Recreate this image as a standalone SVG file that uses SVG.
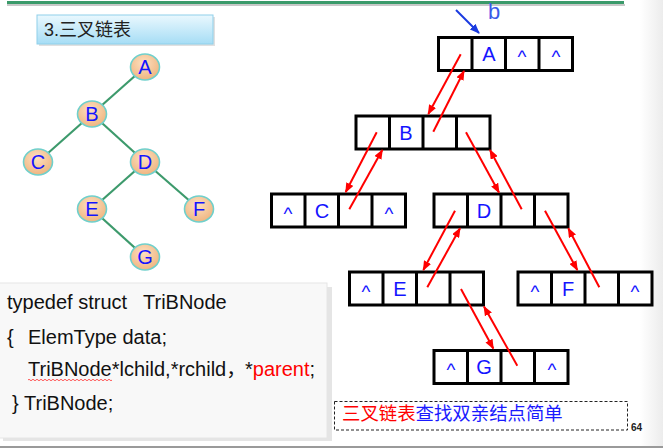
<svg xmlns="http://www.w3.org/2000/svg" width="663" height="448" viewBox="0 0 663 448">
<defs>
<linearGradient id="gTitle" x1="0" y1="0" x2="0" y2="1">
<stop offset="0" stop-color="#eaf8fe"/>
<stop offset="1" stop-color="#a6ddf5"/>
</linearGradient>
<radialGradient id="gBall" cx="0.45" cy="0.35" r="0.7">
<stop offset="0" stop-color="#fde0c0"/>
<stop offset="1" stop-color="#eeb27c"/>
</radialGradient>
<linearGradient id="gSide" x1="0" y1="0" x2="1" y2="0">
<stop offset="0" stop-color="#ffffff"/>
<stop offset="1" stop-color="#ececec"/>
</linearGradient>
<marker id="mRed" viewBox="0 0 10 8" refX="9" refY="4" markerWidth="10" markerHeight="8" markerUnits="userSpaceOnUse" orient="auto">
<path d="M0,0 L10,4 L0,8 Z" fill="#ff0000"/>
</marker>
<marker id="mBlue" viewBox="0 0 10 8" refX="9" refY="4" markerWidth="10" markerHeight="8" markerUnits="userSpaceOnUse" orient="auto">
<path d="M0,0 L10,4 L0,8 Z" fill="#1a3ae0"/>
</marker>
</defs>
<style>
.edge{stroke:#3d9a6c;stroke-width:2.2;fill:none}
.ball{fill:url(#gBall);stroke:#6fd0cc;stroke-width:1.6}
.tl{font-family:"Liberation Sans",Arial,sans-serif;font-size:20px;fill:#1414ff;text-anchor:middle}
.rec{fill:#ffffff;stroke:#000000;stroke-width:3}
.div{stroke:#000000;stroke-width:3}
.cl{font-family:"Liberation Sans",Arial,sans-serif;font-size:20px;fill:#1414ff;text-anchor:middle}
.nul{font-family:"Liberation Sans",Arial,sans-serif;font-size:19px;fill:#1414ff;text-anchor:middle}
.ptr{stroke:#ff0000;stroke-width:2;fill:none;marker-end:url(#mRed)}
.code{font-family:"Liberation Sans",Arial,"Noto Sans CJK SC",sans-serif;font-size:20px;fill:#111111}
</style>
<rect x="0" y="0" width="663" height="448" fill="#ffffff"/>
<rect x="640" y="0" width="23" height="448" fill="url(#gSide)"/>
<line x1="7" y1="5" x2="625" y2="5" stroke="#c8c8c8" stroke-width="2"/>
<line x1="7" y1="2.5" x2="624" y2="2.5" stroke="#3a9a6a" stroke-width="3"/>
<line x1="0" y1="447" x2="663" y2="447" stroke="#9a9a9a" stroke-width="2"/>

<g id="title">
<rect x="39" y="17" width="176" height="29" fill="#000000" opacity="0.12"/>
<rect x="37" y="15" width="176" height="29" fill="url(#gTitle)" stroke="#8fd0ea" stroke-width="1"/>
<text x="44" y="36" font-family="'Liberation Sans','Noto Sans CJK SC',sans-serif" font-size="18" fill="#222222">3.三叉链表</text>
</g>

<g id="connectors">
<line class="edge" x1="145" y1="67" x2="92" y2="114"/>
<line class="edge" x1="92" y1="114" x2="38" y2="162"/>
<line class="edge" x1="92" y1="114" x2="145" y2="162"/>
<line class="edge" x1="145" y1="162" x2="92" y2="209"/>
<line class="edge" x1="145" y1="162" x2="199" y2="209"/>
<line class="edge" x1="92" y1="209" x2="145" y2="257"/>
</g>

<g id="tA"><ellipse class="ball" cx="145" cy="67" rx="14.5" ry="13"/><text class="tl" x="145" y="74">A</text></g>
<g id="tB"><ellipse class="ball" cx="92" cy="114" rx="14.5" ry="13"/><text class="tl" x="92" y="121">B</text></g>
<g id="tC"><ellipse class="ball" cx="38" cy="162" rx="14.5" ry="13"/><text class="tl" x="38" y="169">C</text></g>
<g id="tD"><ellipse class="ball" cx="145" cy="162" rx="14.5" ry="13"/><text class="tl" x="145" y="169">D</text></g>
<g id="tE"><ellipse class="ball" cx="92" cy="209" rx="14.5" ry="13"/><text class="tl" x="92" y="216">E</text></g>
<g id="tF"><ellipse class="ball" cx="199" cy="209" rx="14.5" ry="13"/><text class="tl" x="199" y="216">F</text></g>
<g id="tG"><ellipse class="ball" cx="145" cy="257" rx="14.5" ry="13"/><text class="tl" x="145" y="264">G</text></g>

<g id="nA">
<rect class="rec" x="438.5" y="37.5" width="134" height="33"/>
<line class="div" x1="472" y1="37.5" x2="472" y2="70.5"/>
<line class="div" x1="505.5" y1="37.5" x2="505.5" y2="70.5"/>
<line class="div" x1="539" y1="37.5" x2="539" y2="70.5"/>
<text class="cl" x="489" y="61">A</text>
<text class="nul" x="522" y="63">^</text>
<text class="nul" x="556" y="63">^</text>
</g>
<g id="nB">
<rect class="rec" x="356" y="116" width="134" height="33"/>
<line class="div" x1="389.5" y1="116" x2="389.5" y2="149"/>
<line class="div" x1="423" y1="116" x2="423" y2="149"/>
<line class="div" x1="456.5" y1="116" x2="456.5" y2="149"/>
<text class="cl" x="406" y="139.5">B</text>
</g>
<g id="nC">
<rect class="rec" x="271.5" y="194" width="134" height="33"/>
<line class="div" x1="305" y1="194" x2="305" y2="227"/>
<line class="div" x1="338.5" y1="194" x2="338.5" y2="227"/>
<line class="div" x1="372" y1="194" x2="372" y2="227"/>
<text class="nul" x="288" y="219.5">^</text>
<text class="cl" x="322" y="217.5">C</text>
<text class="nul" x="389" y="219.5">^</text>
</g>
<g id="nD">
<rect class="rec" x="434" y="194" width="134" height="33"/>
<line class="div" x1="467.5" y1="194" x2="467.5" y2="227"/>
<line class="div" x1="501" y1="194" x2="501" y2="227"/>
<line class="div" x1="534.5" y1="194" x2="534.5" y2="227"/>
<text class="cl" x="484" y="217.5">D</text>
</g>
<g id="nE">
<rect class="rec" x="349.5" y="272" width="134" height="33"/>
<line class="div" x1="383" y1="272" x2="383" y2="305"/>
<line class="div" x1="416.5" y1="272" x2="416.5" y2="305"/>
<line class="div" x1="450" y1="272" x2="450" y2="305"/>
<text class="nul" x="366" y="297.5">^</text>
<text class="cl" x="400" y="295.5">E</text>
</g>
<g id="nF">
<rect class="rec" x="518" y="272" width="134" height="33"/>
<line class="div" x1="551.5" y1="272" x2="551.5" y2="305"/>
<line class="div" x1="585" y1="272" x2="585" y2="305"/>
<line class="div" x1="618.5" y1="272" x2="618.5" y2="305"/>
<text class="nul" x="535" y="297.5">^</text>
<text class="cl" x="568" y="295.5">F</text>
<text class="nul" x="635" y="297.5">^</text>
</g>
<g id="nG">
<rect class="rec" x="434" y="350.5" width="134" height="33"/>
<line class="div" x1="467.5" y1="350.5" x2="467.5" y2="383.5"/>
<line class="div" x1="501" y1="350.5" x2="501" y2="383.5"/>
<line class="div" x1="534.5" y1="350.5" x2="534.5" y2="383.5"/>
<text class="nul" x="451" y="376">^</text>
<text class="cl" x="484" y="374">G</text>
<text class="nul" x="552" y="376">^</text>
</g>

<g id="pointers">
<line class="ptr" x1="460.7" y1="54.3" x2="428.3" y2="114"/>
<line class="ptr" x1="433.3" y1="131.7" x2="464" y2="71"/>
<line class="ptr" x1="376.7" y1="132.3" x2="345.7" y2="192"/>
<line class="ptr" x1="349.3" y1="209.3" x2="382.3" y2="150"/>
<line class="ptr" x1="466" y1="132.3" x2="499" y2="192.5"/>
<line class="ptr" x1="521.7" y1="209.3" x2="490" y2="150"/>
<line class="ptr" x1="455" y1="210.7" x2="423.3" y2="270"/>
<line class="ptr" x1="427.3" y1="287.3" x2="460" y2="228.3"/>
<line class="ptr" x1="545" y1="210.7" x2="577.3" y2="270"/>
<line class="ptr" x1="599.3" y1="287.3" x2="568.3" y2="228.3"/>
<line class="ptr" x1="461" y1="289" x2="493.3" y2="348.5"/>
<line class="ptr" x1="517.3" y1="365.7" x2="484" y2="306.5"/>
<line x1="456" y1="10" x2="479" y2="33" stroke="#1a3ae0" stroke-width="2" marker-end="url(#mBlue)"/>
</g>
<text id="lbl-b" x="488" y="19" font-family="'Liberation Sans',Arial,sans-serif" font-size="22" fill="#3a5ae8">b</text>

<g id="code">
<rect x="3" y="287" width="329" height="154" fill="#000000" opacity="0.10"/>
<rect x="-2" y="283" width="329" height="155" fill="#f8f8f8" stroke="#e6e6e6" stroke-width="1"/>
<text class="code" y="309"><tspan x="7">typedef struct</tspan><tspan x="143">TriBNode</tspan></text>
<text class="code" y="344"><tspan x="7">{</tspan><tspan x="28">ElemType data;</tspan></text>
<text class="code" x="28" y="376">TriBNode*lchild,*rchild，<tspan x="245">*</tspan><tspan fill="#ff0000">parent</tspan>;</text>
<text class="code" y="410"><tspan x="12">}</tspan><tspan x="24">TriBNode;</tspan></text>
<path d="M28,380 q1,-1.5 2,0 t2,0 t2,0 t2,0 t2,0 t2,0 t2,0 t2,0 t2,0 t2,0 t2,0 t2,0 t2,0 t2,0 t2,0 t2,0 t2,0 t2,0 t2,0 t2,0 t2,0 t2,0 t2,0 t2,0 t2,0 t2,0 t2,0 t2,0 t2,0 t2,0 t2,0 t2,0 t2,0 t2,0 t2,0 t2,0 t2,0 t2,0 t2,0 t2,0 t2,0 t2,0" fill="none" stroke="#ff3030" stroke-width="0.8"/>
</g>

<g id="note">
<rect x="334.5" y="401.5" width="293" height="28.5" fill="none" stroke="#222222" stroke-width="1" stroke-dasharray="3,2"/>
<text x="342" y="420" font-family="'Noto Sans CJK SC',sans-serif" font-size="18.4"><tspan fill="#ff0000">三叉链表</tspan><tspan fill="#1a1aff">查找双亲结点简单</tspan></text>
</g>
<text id="page" x="631" y="431" font-family="'Liberation Sans',Arial,sans-serif" font-size="10" font-weight="bold" fill="#222222">64</text>
</svg>
